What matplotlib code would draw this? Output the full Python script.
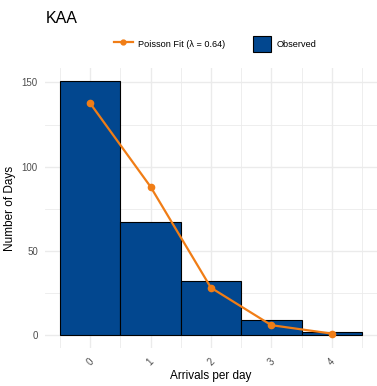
import matplotlib
matplotlib.use("Agg")
import matplotlib.pyplot as plt
from matplotlib.lines import Line2D
from matplotlib.patches import Patch

plt.rcParams['font.family'] = ['Liberation Sans', 'DejaVu Sans']

arrivals = [0, 1, 2, 3, 4]
observed = [151, 67, 32, 9, 2]
poisson_fit = [137.6, 88.1, 28.2, 6.0, 1.0]
tick_labels = ["0", "1", "2", "3", "4"]
title = "KAA"
fit_label = "Poisson Fit (λ = 0.64)"

bar_color = "#02478F"
line_color = "#F07D16"
grid_color = "#EBEBEB"
text_gray = "#4D4D4D"

fig = plt.figure(figsize=(3.77, 3.86), dpi=100)
ax = fig.add_axes([0.119, 0.0984, 0.881, 0.7256])

ax.bar(arrivals, observed, width=1.0, color=bar_color, edgecolor="black",
       linewidth=0.8, zorder=2)
ax.plot(arrivals, poisson_fit, color=line_color, linewidth=1.6, marker="o",
        markersize=4.5, zorder=3)

ymax = max(observed)
ax.set_xlim(-0.5 - 0.25, 4.5 + 0.25)
ax.set_ylim(-0.05 * ymax, ymax * 1.05)

ax.set_xticks(arrivals)
ax.set_xticklabels(tick_labels, rotation=45)
ax.set_xticks([a - 0.5 for a in arrivals] + [arrivals[-1] + 0.5], minor=True)
ax.set_yticks([0, 50, 100, 150])
ax.set_yticks([25, 75, 125], minor=True)

ax.grid(True, which="major", color=grid_color, linewidth=1.0, zorder=0)
ax.grid(True, which="minor", color=grid_color, linewidth=0.6, zorder=0)
ax.set_axisbelow(True)
for s in ax.spines.values():
    s.set_visible(False)
ax.tick_params(axis="both", which="both", length=0, labelsize=7, labelcolor=text_gray)
ax.tick_params(axis="x", pad=6)
ax.tick_params(axis="y", pad=5)

ax.set_xlabel("Arrivals per day", fontsize=8.5, color="black", labelpad=2)
ax.set_ylabel("Number of Days", fontsize=8.5, color="black", labelpad=4)

fig.text(0.122, 0.94, title, fontsize=11.5, color="black", ha="left", va="baseline")

handles = [Line2D([0], [0], color=line_color, linewidth=1.6, marker="o", markersize=3.5),
           Patch(facecolor=bar_color, edgecolor="black", linewidth=0.8)]
fig.legend(handles, [fit_label, "Observed"], loc="center", bbox_to_anchor=(0.571, 0.886),
           ncol=2, frameon=False, fontsize=6.6, handlelength=2.0, handleheight=2.2,
           columnspacing=3.0, handletextpad=0.6, borderaxespad=0, borderpad=0)

fig.savefig("out.png", dpi=100)
